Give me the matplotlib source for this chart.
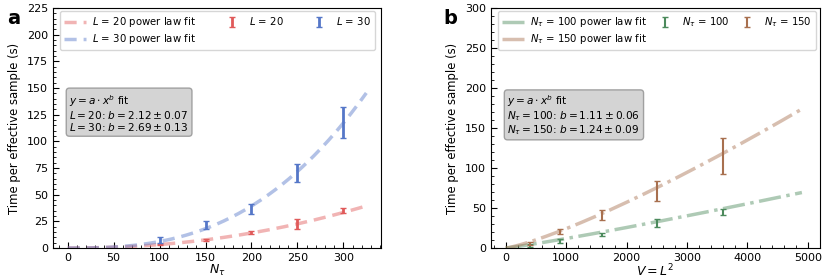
import numpy as np
import matplotlib
matplotlib.use('Agg')
import matplotlib.pyplot as plt
from matplotlib.ticker import AutoMinorLocator, MultipleLocator

# panel a: time per effective sample vs N_tau
n_tau = [100, 150, 200, 250, 300]
t_L20 = [3.0, 7.5, 14.5, 22.5, 35.0]
e_L20 = [0.6, 0.7, 1.5, 4.5, 2.2]
t_L30 = [7.5, 21.5, 36.5, 70.0, 118.0]
e_L30 = [2.5, 4.0, 4.5, 8.5, 14.5]
fit_a = {'L20': (39.5 / 325**2.12, 2.12), 'L30': (145.4 / 325**2.69, 2.69)}

# panel b: time per effective sample vs V = L^2
vol = [400, 900, 1600, 2500, 3600]
t_N100 = [3.0, 9.3, 17.0, 31.0, 45.0]
e_N100 = [1.5, 2.5, 2.0, 4.8, 3.7]
t_N150 = [5.5, 20.8, 41.0, 71.5, 115.0]
e_N150 = [2.0, 3.5, 6.3, 12.5, 22.0]
fit_b = {'N100': (69.4 / 4900**1.11, 1.11), 'N150': (173.8 / 4900**1.24, 1.24)}

red, blue = '#e05a5a', '#5577c8'
green, brown = '#4c8a5c', '#a8704f'

fig = plt.figure(figsize=(8.31, 2.79), dpi=100)
axa = fig.add_axes([0.0638, 0.111, 0.3947, 0.860])
axb = fig.add_axes([0.5909, 0.111, 0.3959, 0.860])

leg_kw = dict(ncol=3, loc='upper left', fontsize=7.3, bbox_to_anchor=(0.015, 0.995),
              handlelength=2.2, handletextpad=0.6, borderaxespad=0.2, labelspacing=0.3)
box_kw = dict(boxstyle='round,pad=0.3', fc='#d0d0d0', ec='#999999', alpha=0.9)

# --- panel a
xa = np.linspace(0, 325, 200)
a20, b20 = fit_a['L20']
a30, b30 = fit_a['L30']
h1, = axa.plot(xa, a20 * xa**b20, color=red, alpha=0.45, lw=2.5, dashes=(3.5, 2),
               label='$L$ = 20 power law fit')
h2, = axa.plot(xa, a30 * xa**b30, color=blue, alpha=0.45, lw=2.5, dashes=(3.5, 2),
               label='$L$ = 30 power law fit')
h3 = axa.errorbar(n_tau, t_L20, yerr=e_L20, fmt='none', ecolor=red, elinewidth=2, capsize=2, label='$L$ = 20')
h4 = axa.errorbar(n_tau, t_L30, yerr=e_L30, fmt='none', ecolor=blue, elinewidth=2, capsize=2, label='$L$ = 30')
axa.set_xlim(-16, 341)
axa.set_ylim(0, 225)
axa.yaxis.set_major_locator(MultipleLocator(25))
axa.set_xlabel(r'$N_\tau$', fontsize=9, labelpad=0)
axa.set_ylabel('Time per effective sample (s)', fontsize=8.4)
axa.legend(handles=[h1, h2, h3, h4], columnspacing=2.4, **leg_kw)
axa.text(0.05, 0.645, '$y = a \\cdot x^b$ fit\n$L = 20$: $b = 2.12 \\pm 0.07$\n$L = 30$: $b = 2.69 \\pm 0.13$',
         transform=axa.transAxes, fontsize=7.6, va='top', linespacing=1.0, bbox=box_kw)

# --- panel b
xb = np.linspace(0, 4900, 200)
a100, b100 = fit_b['N100']
a150, b150 = fit_b['N150']
g1, = axb.plot(xb, a100 * xb**b100, '-.', color=green, alpha=0.45, lw=2.5, label=r'$N_\tau$ = 100 power law fit')
g2, = axb.plot(xb, a150 * xb**b150, '-.', color=brown, alpha=0.45, lw=2.5, label=r'$N_\tau$ = 150 power law fit')
g3 = axb.errorbar(vol, t_N100, yerr=e_N100, fmt='none', ecolor=green, elinewidth=1.5, capsize=2, label=r'$N_\tau$ = 100')
g4 = axb.errorbar(vol, t_N150, yerr=e_N150, fmt='none', ecolor=brown, elinewidth=1.5, capsize=2, label=r'$N_\tau$ = 150')
axb.set_xlim(-243, 5200)
axb.set_ylim(0, 300)
axb.set_xlabel('$V = L^2$', fontsize=9, labelpad=0)
axb.set_ylabel('Time per effective sample (s)', fontsize=8.4)
axb.legend(handles=[g1, g2, g3, g4], columnspacing=0.6, **leg_kw)
axb.text(0.05, 0.645, '$y = a \\cdot x^b$ fit\n$N_\\tau = 100$: $b = 1.11 \\pm 0.06$\n$N_\\tau = 150$: $b = 1.24 \\pm 0.09$',
         transform=axb.transAxes, fontsize=7.6, va='top', linespacing=1.0, bbox=box_kw)

for ax in (axa, axb):
    ax.xaxis.set_minor_locator(AutoMinorLocator())
    ax.yaxis.set_minor_locator(AutoMinorLocator())
    ax.tick_params(which='both', direction='in', labelsize=8)
    ax.tick_params(which='major', length=4)
    ax.tick_params(which='minor', length=2)

fig.text(0.008, 0.915, 'a', fontsize=14, fontweight='bold')
fig.text(0.533, 0.915, 'b', fontsize=14, fontweight='bold')

fig.savefig('out.png', dpi=100)
